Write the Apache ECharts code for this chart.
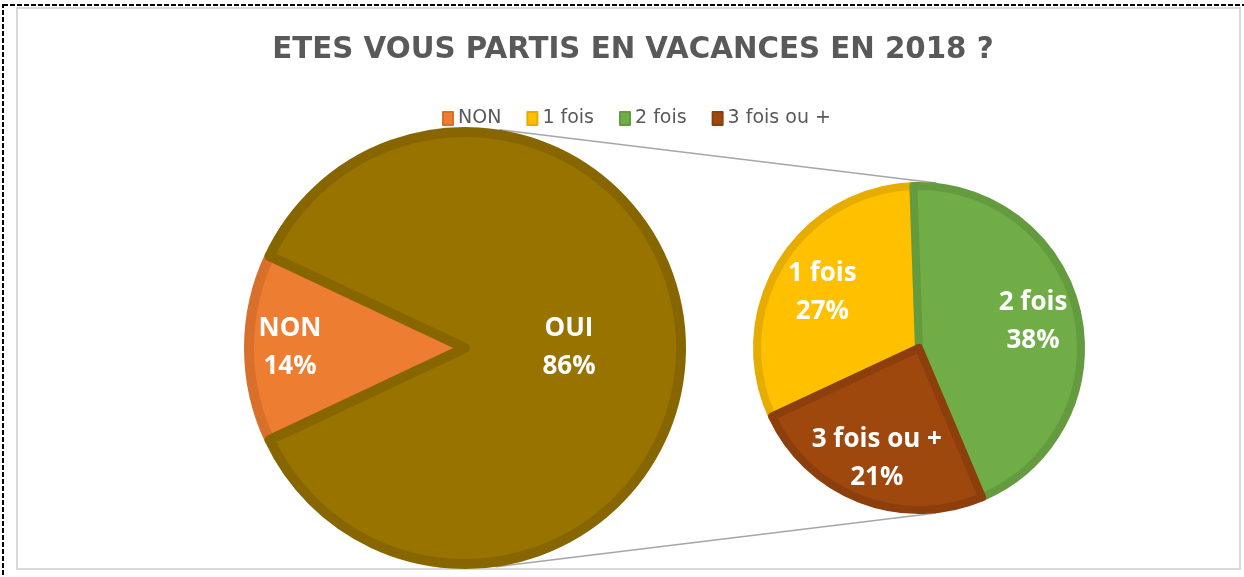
<!DOCTYPE html>
<html>
<head>
<meta charset="utf-8">
<script src="https://cdn.jsdelivr.net/npm/echarts@6/dist/echarts.min.js"></script>
<style>
  html, body { margin: 0; padding: 0; background: #fff; }
  #chart { width: 1244px; height: 577px; }
</style>
</head>
<body>
<div id="chart"></div>
<script>
// data
const chartTitle = 'ETES VOUS PARTIS EN VACANCES EN 2018 ?';
const mainNames = ['NON', 'OUI'];
const mainValues = [14, 86];
const subNames = ['1 fois', '2 fois', '3 fois ou +'];
const subValues = [27, 38, 21];
const legendNames = ['NON', '1 fois', '2 fois', '3 fois ou +'];

// look
const fills = {
    'NON': '#ED7D31', 'OUI': '#997300',
    '1 fois': '#FFC000', '2 fois': '#70AD47', '3 fois ou +': '#9E480E'
};
const rims = {
    'NON': '#D86F2A', 'OUI': '#876600',
    '1 fois': '#E6AD00', '2 fois': '#639B3E', '3 fois ou +': '#8C3F0C'
};
// label nudges (px) away from the default mid-radius spot
const nudges = {
    'NON': [-64, 0], 'OUI': [-7, 0],
    '1 fois': [-25, -12], '2 fois': [32, -8], '3 fois ou +': [-12, 32]
};

const mainPie = { cx: 465, cy: 348, r: 216, rim: 10 };
const subPie = { cx: 919, cy: 348, r: 162, rim: 8 };

function pieData(names, values) {
    return names.map(function (name, i) {
        return {
            name: name,
            value: values[i],
            itemStyle: { color: fills[name], borderColor: rims[name] }
        };
    });
}

function nudgeLayout(names) {
    return function (params) {
        let n = nudges[names[params.dataIndex]];
        return { dx: n[0], dy: n[1], hideOverlap: false };
    };
}

function edgePoint(p, deg) {
    let rr = p.r + p.rim / 2;
    let a = deg * Math.PI / 180;
    return [p.cx + rr * Math.cos(a), p.cy - rr * Math.sin(a)];
}

let mainTotal = mainValues.reduce(function (a, b) { return a + b; }, 0);
let mainStart = 180 + mainValues[0] / mainTotal * 180;

let labelStyle = {
    show: true,
    position: 'inside',
    formatter: '{b}\n{c}%',
    color: '#fff',
    fontFamily: 'Open Sans',
    fontWeight: 'bold',
    fontSize: 26,
    lineHeight: 38
};

let chart = echarts.init(document.getElementById('chart'));

chart.setOption({
    animation: false,
    backgroundColor: '#fff',
    title: {
        text: chartTitle,
        left: 628,
        top: 31,
        textAlign: 'center',
        textStyle: {
            fontFamily: 'DejaVu Sans',
            fontWeight: 'bold',
            fontSize: 29.3,
            color: '#595959'
        }
    },
    legend: {
        data: legendNames,
        left: 437,
        top: 104,
        icon: 'rect',
        itemWidth: 10,
        itemHeight: 13,
        itemGap: 25,
        textStyle: {
            fontFamily: 'DejaVu Sans',
            fontSize: 19,
            color: '#595959'
        }
    },
    graphic: [
        {
            type: 'rect',
            shape: { x: 17, y: 8, width: 1223, height: 561 },
            style: { fill: null, stroke: '#D9D9D9', lineWidth: 2 },
            z: -1
        },
        {
            type: 'rect',
            shape: { x: 3, y: 5, width: 1260, height: 600 },
            style: { fill: null, stroke: '#000', lineWidth: 2, lineDash: [5, 2] },
            z: 10
        },
        {
            type: 'polyline',
            shape: { points: [edgePoint(mainPie, 81), edgePoint(subPie, 84)] },
            style: { stroke: '#A6A6A6', lineWidth: 1.5, fill: null },
            z: -1
        },
        {
            type: 'polyline',
            shape: { points: [edgePoint(mainPie, -82), edgePoint(subPie, -84)] },
            style: { stroke: '#A6A6A6', lineWidth: 1.5, fill: null },
            z: -1
        }
    ],
    series: [
        {
            type: 'pie',
            center: [mainPie.cx, mainPie.cy],
            radius: mainPie.r,
            startAngle: mainStart,
            clockwise: true,
            avoidLabelOverlap: false,
            itemStyle: { borderWidth: mainPie.rim },
            label: labelStyle,
            labelLine: { show: false },
            labelLayout: nudgeLayout(mainNames),
            emphasis: { disabled: true },
            data: pieData(mainNames, mainValues)
        },
        {
            type: 'pie',
            center: [subPie.cx, subPie.cy],
            radius: subPie.r,
            startAngle: 205,
            clockwise: true,
            avoidLabelOverlap: false,
            itemStyle: { borderWidth: subPie.rim },
            label: labelStyle,
            labelLine: { show: false },
            labelLayout: nudgeLayout(subNames),
            emphasis: { disabled: true },
            data: pieData(subNames, subValues)
        }
    ]
});
</script>
</body>
</html>
